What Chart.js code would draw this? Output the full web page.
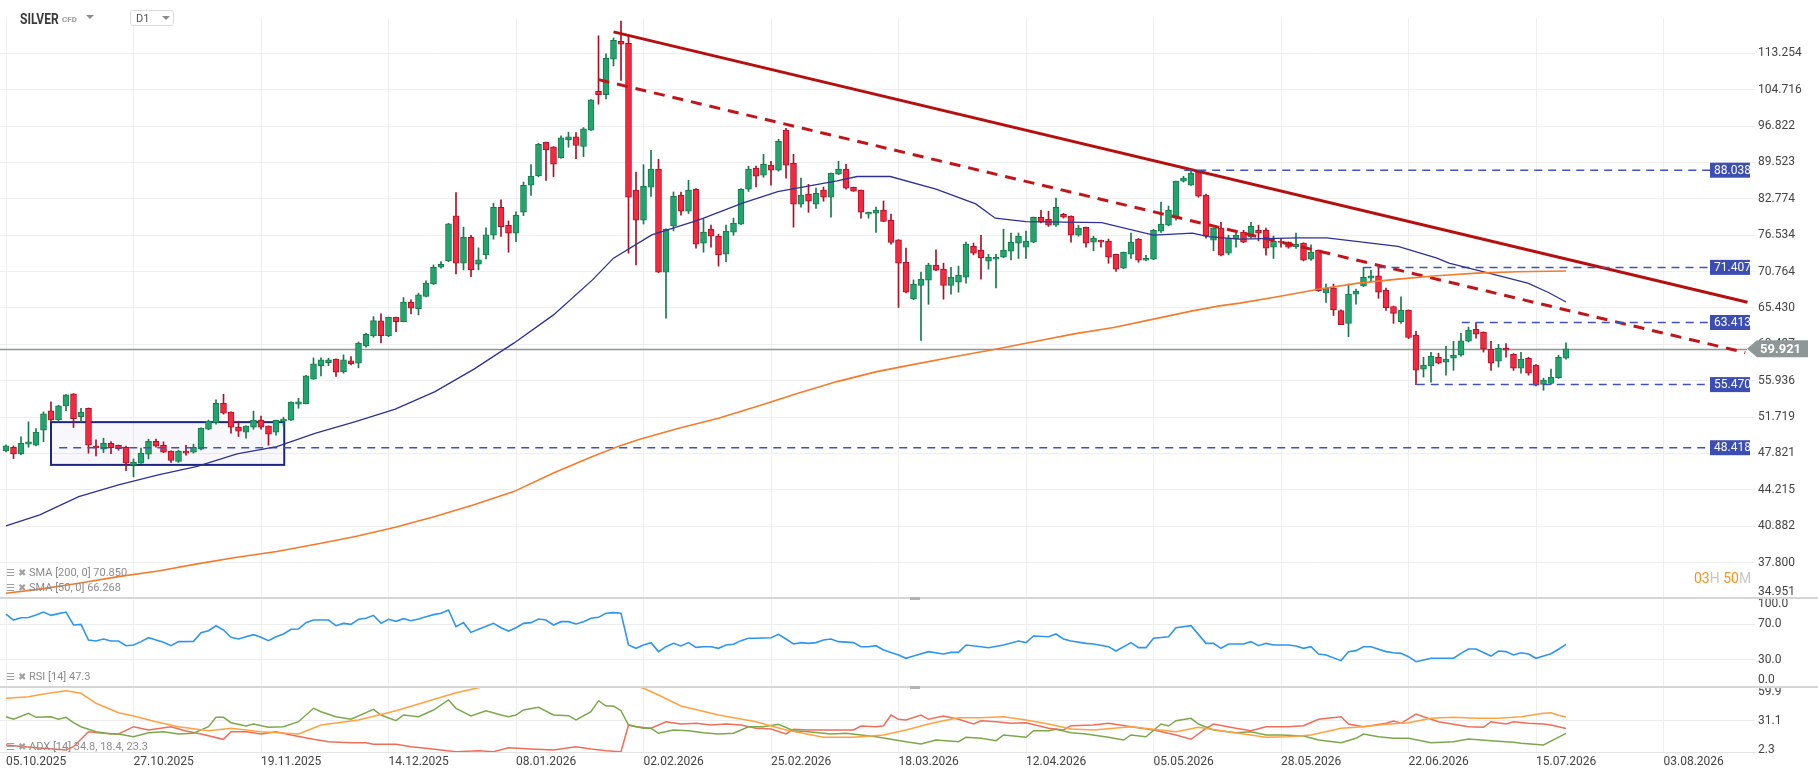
<!DOCTYPE html>
<html>
<head>
<meta charset="utf-8">
<script src="https://cdn.jsdelivr.net/npm/chart.js"></script>
<style>
  body { margin:0; background:#fff; width:1818px; height:779px; overflow:hidden; position:relative; font-family:Roboto, "Noto Sans", sans-serif; }
  canvas { position:absolute; left:0; }
  .txt { position:absolute; white-space:nowrap; line-height:1; }
  .lg { position:absolute; left:6px; font-size:11px; color:#8c8c8c; white-space:nowrap; line-height:12px; }
  .lg .ic { display:inline-block; font-size:10px; color:#a0a0a0; margin-right:3px; }
  .sep { position:absolute; left:0; width:1818px; height:2px; background:#d6d6d6; }
  .grip { position:absolute; left:910px; width:10px; height:3px; background:#b3b3b3; }
  .tri { position:absolute; width:0; height:0; border-left:4px solid transparent; border-right:4px solid transparent; border-top:4px solid #8a8a8a; }
</style>
</head>
<body>
<canvas id="main" width="1818" height="599" style="top:0"></canvas>
<canvas id="rsi" width="1818" height="90" style="top:597px"></canvas>
<canvas id="adx" width="1818" height="92" style="top:687px"></canvas>

<div class="sep" style="top:597px"></div>
<div class="sep" style="top:686px"></div>
<div class="grip" style="top:597px"></div>
<div class="grip" style="top:686px"></div>

<!-- header -->
<div class="txt" style="left:20px;top:12px;font-size:14px;font-weight:bold;color:#3a3a3a;transform:scaleX(0.86);transform-origin:left">SILVER</div>
<div class="txt" style="left:62px;top:16px;font-size:8px;font-weight:bold;color:#9a9a9a">CFD</div>
<div class="tri" style="left:86px;top:15px"></div>
<div style="position:absolute;left:130px;top:10px;width:42px;height:14px;border:1px solid #dcdcdc;border-radius:3px;background:#fff"></div>
<div class="txt" style="left:136px;top:13px;font-size:11px;color:#555">D1</div>
<div class="tri" style="left:162px;top:16px"></div>

<!-- legends -->
<div class="lg" style="top:567px"><span class="ic">☰</span><span class="ic">✖</span>SMA [200, 0] 70.850</div>
<div class="lg" style="top:582px"><span class="ic">☰</span><span class="ic">✖</span>SMA [50, 0] 66.268</div>
<div class="lg" style="top:671px"><span class="ic">☰</span><span class="ic">✖</span>RSI [14] 47.3</div>
<div class="lg" style="top:741px"><span class="ic">☰</span><span class="ic">✖</span>ADX [14] 34.8, 18.4, 23.3</div>
<div class="txt" style="left:1694px;top:571px;font-size:14px"><span style="color:#f7931e">03</span><span style="color:#c8c8c8">H</span> <span style="color:#f7931e">50</span><span style="color:#c8c8c8">M</span></div>

<script>
// ---- data ----
const dateLabels = ['05.10.2025','27.10.2025','19.11.2025','14.12.2025','08.01.2026','02.02.2026','25.02.2026',
  '18.03.2026','12.04.2026','05.05.2026','28.05.2026','22.06.2026','15.07.2026','03.08.2026'];
const barsPerLabel = 17;

const priceTicks = [113.254,104.716,96.822,89.523,82.774,76.534,70.764,65.430,60.497,55.936,51.719,47.821,44.215,40.882,37.800,34.951];
const rsiTicks = [0,30,70,100];
const adxTicks = [2.3,31.1,59.9];

// [open, high, low, close] per daily bar
const candles = [
  [48.09,48.72,47.99,48.61],[48.47,48.61,47.30,47.78],[47.78,49.56,47.71,48.89],[48.79,51.19,48.47,49.03],
  [48.68,50.46,48.61,50.07],[50.29,52.30,49.06,52.08],[52.42,53.44,51.19,51.41],[51.41,53.06,51.33,52.98],
  [52.98,54.33,52.45,54.25],[54.37,54.40,50.57,51.55],[51.78,52.72,51.19,52.27],[52.72,52.75,47.85,48.68],
  [48.58,49.24,47.57,48.40],[48.26,49.42,47.91,48.89],[48.89,49.06,47.81,48.43],[48.68,48.70,48.16,48.33],
  [48.47,48.58,46.09,46.84],[46.66,47.27,45.47,46.94],[46.84,48.37,46.80,47.85],[47.75,49.32,47.27,49.10],
  [49.10,49.32,48.47,48.58],[48.68,49.03,47.90,47.96],[48.06,48.10,46.90,47.10],[47.00,48.16,46.90,48.06],
  [48.06,48.68,47.64,47.85],[47.96,48.79,47.85,48.47],[48.26,50.55,48.20,50.50],[50.39,51.38,50.32,51.27],
  [51.11,53.67,50.94,53.29],[53.29,54.33,52.05,52.16],[52.27,52.30,49.96,50.61],[50.61,51.27,49.60,50.18],
  [50.07,50.75,49.42,50.72],[50.61,52.39,50.39,51.38],[51.38,51.82,50.39,50.61],[50.72,50.75,48.68,49.86],
  [50.07,51.40,49.75,51.38],[51.27,51.71,50.72,51.49],[51.38,53.45,51.35,53.42],[53.18,53.87,52.72,53.44],
  [53.24,56.60,53.20,56.52],[56.12,58.75,56.10,58.00],[57.78,58.75,56.52,58.50],[58.16,58.71,57.78,58.50],
  [58.62,58.65,56.45,56.97],[57.01,59.14,56.85,58.50],[58.37,58.92,57.88,58.04],[58.09,60.82,57.51,60.65],
  [60.29,61.96,60.12,61.83],[61.61,64.22,61.43,63.67],[63.63,64.60,60.69,61.65],[61.61,64.15,61.50,64.14],
  [64.14,64.16,62.18,63.53],[63.53,66.91,63.50,66.25],[66.25,66.58,64.60,65.40],[65.34,67.55,64.46,67.30],
  [67.06,69.36,67.00,69.02],[68.92,71.79,68.82,71.43],[71.43,72.29,71.28,71.89],[72.41,78.50,72.30,78.42],
  [79.78,83.90,70.41,72.05],[72.05,77.88,71.02,76.20],[76.20,76.50,70.00,71.02],[71.91,74.47,71.02,72.57],
  [73.36,77.76,72.72,76.58],[76.54,82.00,75.87,81.29],[81.29,82.58,76.32,77.95],[78.19,78.93,73.78,76.86],
  [76.86,80.47,75.49,79.90],[80.42,85.83,79.83,85.23],[85.23,89.10,83.37,86.91],[86.96,93.30,86.80,93.10],
  [93.50,93.55,86.10,92.03],[92.57,92.60,86.80,89.18],[90.42,94.80,90.30,94.38],[94.04,95.55,92.50,94.58],
  [94.58,95.47,90.24,92.84],[92.64,96.50,90.63,96.23],[95.96,102.50,95.90,102.43],[104.37,117.60,101.50,103.61],
  [103.61,113.10,102.63,112.05],[111.80,117.05,110.20,116.48],[116.23,121.40,106.80,115.50],[115.74,117.60,73.62,83.06],
  [84.33,87.66,71.80,79.05],[79.05,89.10,78.40,85.05],[84.87,91.90,83.20,88.23],[88.23,90.15,70.60,70.67],
  [70.67,77.60,64.00,77.53],[78.06,84.00,77.25,83.24],[83.42,84.00,79.90,80.58],[80.58,86.16,80.20,84.33],
  [84.50,84.60,74.42,75.06],[75.22,79.27,73.78,77.03],[77.53,78.20,74.60,76.37],[76.37,76.70,71.60,73.35],
  [73.46,78.20,72.30,77.20],[77.03,79.40,76.50,78.54],[78.37,84.60,78.30,84.50],[84.50,88.80,84.10,88.23],
  [88.42,88.80,84.90,86.91],[87.10,91.10,86.70,89.18],[89.00,89.75,85.23,88.04],[88.04,94.10,87.85,93.71],
  [95.96,96.37,86.54,89.00],[89.37,91.10,77.86,81.81],[81.81,86.54,81.29,83.42],[83.60,85.40,80.40,82.34],
  [81.81,84.70,81.10,83.78],[84.33,84.90,82.34,83.06],[83.06,87.50,79.55,87.47],[87.28,89.75,87.20,88.23],
  [88.23,89.18,84.50,84.69],[84.87,84.90,84.10,84.14],[84.33,84.35,79.40,80.42],[80.06,80.45,79.40,80.42],
  [80.24,81.30,77.00,80.78],[80.78,82.40,78.80,78.85],[79.05,80.10,75.06,75.37],[75.76,75.80,65.50,72.05],
  [72.20,74.42,67.60,67.70],[66.70,69.50,66.60,68.90],[68.70,70.67,61.00,69.62],[69.47,72.05,65.95,71.75],
  [71.75,74.15,70.90,70.97],[71.13,72.05,66.68,68.67],[68.67,71.43,67.40,69.92],[69.17,71.60,67.70,70.23],
  [69.92,75.40,69.00,75.10],[74.70,75.25,73.36,73.62],[74.10,76.50,69.60,72.87],[72.36,73.46,71.13,72.98],
  [72.67,73.46,68.30,72.98],[72.98,77.53,72.90,74.10],[73.94,76.90,72.57,75.40],[75.25,76.90,72.80,76.37],
  [74.60,77.20,72.80,75.55],[75.40,79.60,75.30,79.55],[79.55,80.73,78.60,78.71],[79.20,80.60,78.00,78.19],
  [78.19,82.90,78.00,81.29],[80.06,80.24,79.40,79.55],[79.73,79.80,75.40,76.54],[76.54,78.20,76.37,77.70],
  [77.86,77.90,74.60,75.22],[75.40,76.37,74.00,76.05],[75.70,75.75,74.60,75.40],[75.55,75.90,72.05,72.98],
  [73.46,73.50,70.80,71.13],[71.28,73.80,71.20,73.78],[73.46,76.90,72.80,75.40],[75.88,76.00,72.20,72.51],
  [72.51,73.30,72.40,72.83],[72.67,77.50,72.60,77.36],[77.20,82.20,77.00,78.37],[78.19,81.50,78.10,80.78],
  [79.40,86.00,79.05,85.99],[85.99,86.90,85.80,86.54],[85.23,88.04,85.20,87.47],[87.66,88.04,83.06,83.24],
  [83.42,83.60,76.05,76.37],[75.70,77.75,74.00,77.70],[77.70,78.70,73.20,73.30],[73.62,76.54,73.36,76.05],
  [75.88,77.20,74.60,76.54],[77.03,77.36,75.30,75.40],[76.20,78.70,76.10,78.02],[77.36,78.20,75.60,76.86],
  [77.36,77.70,73.30,74.42],[74.60,76.40,72.80,75.55],[75.55,75.90,74.60,75.37],[75.40,75.45,74.42,74.60],
  [74.68,76.90,74.40,75.06],[75.25,75.30,72.40,72.51],[72.67,74.95,72.50,73.78],[74.10,74.15,67.80,67.90],
  [67.60,68.90,66.20,68.30],[68.30,68.90,64.37,65.16],[65.06,65.16,63.10,63.13],[63.30,68.90,61.50,67.40],
  [67.40,68.13,65.95,67.84],[68.60,71.41,68.50,69.90],[69.75,70.97,69.20,70.10],[70.10,71.30,66.80,67.70],
  [67.98,68.30,65.10,65.48],[65.64,65.70,63.30,64.68],[63.53,67.00,63.30,65.12],[65.12,65.15,61.25,61.39],
  [61.70,62.23,55.47,57.22],[57.35,58.84,56.37,57.85],[57.74,59.48,55.77,58.97],[58.84,59.35,58.00,58.09],
  [58.22,60.25,56.60,58.59],[58.71,60.90,57.20,59.10],[59.10,61.96,58.97,60.95],[60.90,62.78,60.80,62.37],
  [62.50,63.41,61.30,61.83],[62.10,62.15,59.50,59.86],[59.86,60.90,57.20,58.09],[58.33,60.50,57.60,59.97],
  [59.97,60.60,58.84,59.74],[59.22,59.30,57.20,57.47],[57.47,59.48,56.85,58.59],[58.71,58.84,56.60,56.85],
  [57.86,57.90,55.30,55.40],[55.50,56.25,54.80,56.00],[55.62,57.35,55.50,56.37],[56.32,59.10,56.20,58.84],
  [58.71,60.70,58.60,59.921]
];
const lastPrice = 59.921;

// moving averages [bar, value]
const sma50 = [[0,40.92],[4.5,41.90],[9.7,43.58],[15,44.70],[20.3,45.67],[25.5,46.50],[30.8,47.78],[36.1,48.53],
  [41.3,49.96],[46.6,51.22],[51.9,52.61],[57.2,54.64],[62.4,57.35],[67.7,60.65],[73,64.46],[78.2,69.51],[81,72.84],
  [86.1,76.58],[92.4,79.10],[98.2,81.99],[102.9,84.07],[110.8,86.03],[113.5,86.85],[117.9,86.85],[124,84.51],
  [129.3,81.87],[131.9,79.39],[136,78.81],[146.1,78.64],[153,76.53],[158.2,76.86],[160.3,76.30],[164.5,75.88],
  [172.4,76.09],[176.1,76.09],[180.3,75.49],[185.6,74.70],[190.8,72.84],[192.4,72.05],[197.7,70.52],[202.9,69.02],
  [205.6,67.68],[208,66.27]];
const sma200 = [[0,35.39],[4.5,35.70],[9.7,36.16],[15,36.68],[20.3,37.13],[25.5,37.70],[30.8,38.24],[36.1,38.71],
  [41.3,39.33],[46.6,39.99],[51.9,40.79],[57.2,41.74],[62.4,42.81],[67.7,44.05],[73,45.85],[78.2,47.51],[81.8,48.61],
  [84.5,49.31],[89.7,50.50],[95,51.60],[100.3,52.98],[105.6,54.45],[110.8,55.83],[116.1,57.04],[121.4,58.00],
  [126.6,58.93],[131.9,59.87],[137.2,60.86],[142.4,61.88],[147.7,62.72],[153,63.87],[158.2,65.02],[161.8,65.72],
  [164.5,66.11],[169.7,67.06],[175,68.13],[180.3,69.02],[185.6,69.62],[190.8,70.12],[196.1,70.53],[201.4,70.73],
  [208,70.85]];

// drawn trendlines [bar, price]
const trendSolid = [[81.0,118.6],[232.2,66.25]];
const trendDashed = [[79.0,107.0],[231.9,59.43]];

// horizontal levels
const levels = [88.038, 71.407, 63.413, 55.470, 48.418];
const levelStart = [157.1, 181, 194.1, 188.1, 7.1];
const levelEnd = 227.2;

// consolidation box [barFrom, barTo, priceTop, priceBottom]
const rangeBox = [6.0, 37.1, 51.16, 46.66];

// RSI(14)
const rsi = [[0,81.1],[1,74.4],[2,77.0],[3,77.3],[4,80.0],[5,83.3],[6,79.6],[7,81.5],[8,83.3],[9,68.9],[10,69.6],
  [11,52.2],[12,51.1],[13,53.3],[14,51.1],[15,51.1],[16,45.9],[17,46.7],[18,50.4],[19,54.8],[20,52.2],[21,49.6],
  [22,45.9],[23,50.4],[25,50.7],[26,60.4],[27,62.6],[28,68.1],[29,63.3],[30,55.2],[31,53.3],[32,55.9],[33,58.1],
  [34,55.2],[35,51.5],[36,55.9],[37,58.9],[38,64.1],[39,64.4],[40,71.5],[41,74.4],[42,74.4],[43,74.4],[44,68.1],
  [45,70.7],[46,69.6],[47,75.2],[48,76.3],[49,79.6],[50,70.7],[51,75.2],[52,73.0],[53,75.9],[54,73.7],[55,75.6],
  [56,78.1],[57,80.4],[58,81.9],[59,85.6],[60,67.0],[61,71.5],[62,60.7],[63,64.1],[65,70.7],[66,65.9],[67,62.2],
  [68,65.9],[69,70.7],[70,71.5],[71,75.6],[72,74.4],[73,68.9],[74,72.6],[75,72.6],[76,70.0],[77,72.6],[78,76.3],
  [79,77.4],[80,81.9],[81,82.6],[82,81.9],[83,46.7],[84,43.0],[85,46.7],[86,49.3],[87,39.3],[88,44.8],[89,48.5],
  [90,45.6],[91,49.3],[92,44.1],[93,44.8],[94,44.8],[95,43.0],[96,46.7],[97,47.4],[98,51.5],[99,54.1],[100,54.1],
  [102,54.8],[103,58.5],[104,53.3],[105,47.8],[106,49.3],[107,48.5],[108,49.3],[109,52.2],[110,53.3],[111,50.4],
  [113,49.3],[114,44.8],[115,44.8],[116,45.9],[117,41.1],[119,35.6],[120,31.9],[121,34.4],[123,39.3],[125,36.7],
  [126,38.5],[127,38.5],[128,46.7],[130,44.8],[131,43.7],[133,46.7],[135,51.1],[136,49.3],[137,56.7],[139,55.9],
  [140,58.9],[141,53.3],[142,51.1],[144,48.5],[145,47.8],[147,44.8],[148,40.0],[150,49.3],[151,43.7],[152,43.7],
  [153,54.1],[155,55.9],[156,65.9],[158,68.1],[160,48.5],[161,48.5],[162,43.0],[163,47.8],[165,47.8],[166,50.4],
  [167,45.9],[168,48.5],[169,46.7],[171,46.7],[172,45.6],[173,43.0],[174,44.8],[175,36.7],[176,35.6],[178,29.3],
  [179,39.3],[180,40.4],[181,44.8],[182,44.8],[184,39.3],[185,38.1],[186,37.4],[187,33.7],[188,28.1],[189,30.0],
  [190,31.9],[193,31.9],[194,37.4],[195,42.2],[196,42.2],[198,34.4],[199,40.0],[200,39.3],[201,35.6],[202,38.1],
  [203,36.7],[204,31.9],[205,34.4],[206,37.0],[207,42.0],[208,47.3]];

// ADX(14), +DI, -DI
const adx = [[0,53.5],[3,55.1],[5,57.8],[8,61.1],[10,58.5],[12,48.5],[15,39.1],[17,35.8],[20,30.1],[23,25.1],[27,21.1],
  [30,23.5],[34,20.1],[39,17.8],[42,26.8],[47,31.8],[52,41.1],[56,50.1],[60,59.1],[63,64.1],[68,72.0],[74,78.0],
  [80,75.0],[85,63.5],[87,56.8],[90,45.8],[95,36.8],[100,30.1],[104,21.8],[109,14.5],[113,14.5],[117,16.8],[120,21.8],
  [123,27.8],[125,31.1],[127,34.1],[130,34.1],[133,35.1],[136,31.8],[139,27.8],[142,22.8],[145,21.8],[150,25.1],
  [153,22.5],[156,20.1],[159,24.5],[162,21.1],[165,17.8],[168,14.5],[171,15.1],[174,16.8],[178,23.5],[181,25.1],
  [184,27.5],[187,29.1],[190,33.5],[193,34.5],[196,33.5],[199,33.5],[202,35.1],[205,38.5],[206,39.1],[207,36.5],[208,34.8]];
const diPlus = [[0,35.1],[1,32.5],[3,38.5],[4,34.5],[6,35.1],[7,32.5],[8,34.5],[9,29.1],[10,25.1],[12,20.1],[14,17.8],
  [15,17.8],[17,15.1],[19,19.1],[21,20.1],[23,17.8],[25,18.5],[27,25.1],[28,34.5],[29,34.5],[30,29.1],[32,25.8],
  [33,27.8],[35,24.5],[37,25.1],[39,30.1],[41,43.5],[42,40.1],[44,35.1],[46,32.5],[49,42.5],[50,36.8],[52,31.1],
  [53,36.8],[55,35.1],[57,41.8],[59,51.8],[60,43.5],[62,35.8],[64,41.1],[66,36.8],[67,35.1],[68,36.8],[69,41.8],
  [71,44.5],[73,36.8],[75,36.1],[76,31.8],[78,40.1],[79,51.1],[80,45.8],[81,45.8],[82,41.1],[83,26.8],[85,23.5],
  [86,23.5],[87,18.5],[89,21.8],[91,21.1],[93,19.1],[95,17.8],[97,18.5],[99,25.1],[101,25.1],[103,27.5],[105,21.1],
  [107,20.1],[110,17.8],[112,18.5],[114,16.8],[116,15.1],[118,12.5],[120,10.1],[122,7.8],[124,11.8],[127,10.1],
  [128,14.5],[130,13.5],[132,11.1],[133,16.8],[136,14.5],[137,21.1],[139,21.1],[140,22.5],[142,19.1],[144,17.8],
  [147,14.5],[149,11.8],[150,16.8],[152,15.1],[154,27.8],[155,25.8],[156,31.1],[158,33.5],[159,27.8],[161,21.8],
  [164,19.1],[166,20.1],[168,16.8],[170,16.8],[173,15.8],[175,11.8],[178,9.1],[180,13.5],[181,17.8],[183,15.1],
  [185,13.5],[187,13.5],[190,9.1],[193,10.1],[195,12.8],[198,11.1],[201,9.5],[202,8.5],[205,6.8],[208,18.4]];
const diMinus = [[0,6.8],[4,4.1],[8,1.8],[9,5.1],[11,20.1],[13,18.5],[15,17.8],[17,25.1],[19,21.8],[22,25.1],[24,20.8],
  [26,17.8],[29,12.5],[30,20.1],[32,20.1],[34,17.8],[36,20.1],[38,16.8],[41,12.5],[43,10.1],[46,9.1],[48,9.1],
  [49,7.5],[52,7.5],[54,5.1],[56,3.5],[58,1.8],[60,0.1],[63,1.1],[65,0.1],[67,4.1],[70,2.8],[73,1.8],[76,5.1],
  [78,2.8],[80,1.1],[82,0.1],[83,26.8],[84,25.1],[86,23.5],[88,30.1],[90,27.8],[92,28.5],[94,26.8],[96,27.8],
  [98,26.8],[100,23.5],[102,22.8],[104,17.8],[105,22.5],[107,21.8],[109,21.8],[111,21.8],[113,21.8],[114,25.8],
  [116,25.1],[117,26.1],[118,36.8],[119,32.5],[120,31.8],[122,36.8],[123,32.5],[125,35.8],[127,32.5],[129,27.8],
  [130,31.1],[132,30.1],[134,28.5],[136,29.1],[139,23.5],[141,21.8],[142,26.1],[145,26.8],[147,28.5],[150,25.1],
  [153,21.8],[156,16.8],[158,12.5],[160,23.5],[161,27.8],[164,23.5],[166,21.1],[168,25.1],[171,25.1],[173,26.1],
  [175,32.5],[178,35.1],[179,27.8],[181,25.1],[184,28.5],[185,30.8],[186,28.5],[188,37.8],[189,35.1],[191,30.1],
  [195,25.1],[197,24.5],[198,30.1],[200,27.8],[201,30.1],[203,28.5],[205,27.8],[206,26.8],[208,23.3]];

// ---- chart setup ----
Chart.defaults.font.family = 'Roboto';
Chart.defaults.font.size = 12;
Chart.defaults.color = '#444';
Chart.defaults.animation = false;
Chart.defaults.plugins.legend.display = false;
Chart.defaults.plugins.tooltip.enabled = false;

const UP = '#22a46e', UP_EDGE = '#177a4c';
const DOWN = '#f4283f', DOWN_EDGE = '#ad1029';
const isUp = i => candles[i][3] >= candles[i][0];
const pts = arr => arr.map(p => ({ x: p[0], y: p[1] }));

// no label overhang padding, so the three panes line up exactly
function noPad(s) { s.paddingTop = 0; s.paddingBottom = 0; s.paddingLeft = 0; s.paddingRight = 0; }

function xAxis(showLabels) {
  return {
    type: 'linear', min: -0.8, max: 233.2, offset: false,
    afterBuildTicks: s => { s.ticks = dateLabels.map((_, i) => ({ value: i * barsPerLabel })); },
    afterFit: s => { s.height = showLabels ? 27 : 0; noPad(s); },
    grid: { color: '#efefef', offset: false, drawTicks: false },
    border: { display: showLabels, color: '#e4e4e4' },
    ticks: {
      display: showLabels, align: 'start', padding: 3, maxRotation: 0, autoSkip: false,
      callback: v => dateLabels[Math.round(v / barsPerLabel)]
    }
  };
}

function yRight(extra) {
  return Object.assign({
    position: 'right',
    afterFit: s => { s.width = 63; noPad(s); },
    border: { display: false }
  }, extra);
}

function lineDs(data, color, width, extra) {
  return Object.assign({ type: 'line', data: pts(data), borderColor: color, borderWidth: width,
    pointRadius: 0, tension: 0, fill: false, order: 0 }, extra || {});
}

// annotations on the price pane
const overlay = {
  id: 'overlay',
  beforeDatasetsDraw(chart) {
    const { ctx, chartArea, scales: { x, y } } = chart;
    const bx0 = x.getPixelForValue(rangeBox[0]), bx1 = x.getPixelForValue(rangeBox[1]);
    const by0 = y.getPixelForValue(rangeBox[2]), by1 = y.getPixelForValue(rangeBox[3]);
    ctx.save();
    ctx.fillStyle = 'rgba(63,81,181,0.045)';
    ctx.fillRect(bx0, by0, bx1 - bx0, by1 - by0);
    ctx.strokeStyle = '#1c2580';
    ctx.lineWidth = 2;
    ctx.strokeRect(bx0, by0, bx1 - bx0, by1 - by0);
    const py = Math.round(y.getPixelForValue(lastPrice)) + 0.5;
    ctx.strokeStyle = '#8d9595';
    ctx.lineWidth = 1.3;
    ctx.beginPath();
    ctx.moveTo(chartArea.left, py);
    ctx.lineTo(chartArea.right - 8, py);
    ctx.stroke();
    ctx.restore();
  },
  afterDraw(chart) {
    const { ctx, chartArea, scales: { y } } = chart;
    ctx.save();
    ctx.font = '12px Roboto';
    ctx.textBaseline = 'middle';
    levels.forEach(v => {
      const ly = y.getPixelForValue(v);
      const l = chartArea.right - 45, w = 40, h = 15;
      ctx.fillStyle = '#3d4eb2';
      ctx.fillRect(l, ly - h / 2, w, h);
      ctx.save();
      ctx.beginPath(); ctx.rect(l, ly - h / 2, w, h); ctx.clip();
      ctx.fillStyle = '#ffffff';
      ctx.fillText(v.toFixed(3), l + 4, ly + 0.5);
      ctx.restore();
    });
    // last price marker
    const py = y.getPixelForValue(lastPrice);
    const tip = chartArea.right - 8;
    ctx.fillStyle = '#8e9797';
    ctx.beginPath();
    ctx.moveTo(tip, py);
    ctx.lineTo(tip + 10, py - 8.5);
    ctx.lineTo(tip + 61, py - 8.5);
    ctx.lineTo(tip + 61, py + 8.5);
    ctx.lineTo(tip + 10, py + 8.5);
    ctx.closePath();
    ctx.fill();
    ctx.fillStyle = '#ffffff';
    ctx.font = 'bold 13px Roboto';
    ctx.fillText(lastPrice.toFixed(3), tip + 13, py + 0.5);
    ctx.restore();
  }
};

new Chart(document.getElementById('main'), {
  type: 'bar',
  data: {
    datasets: [
      { type: 'bar', data: candles.map((c, i) => ({ x: i, y: [c[2], c[1]] })), grouped: false, barThickness: 1,
        backgroundColor: c => isUp(c.dataIndex) ? UP_EDGE : DOWN_EDGE, borderWidth: 0, order: 2 },
      { type: 'bar', data: candles.map((c, i) => ({ x: i, y: [c[0], c[3]] })), grouped: false, barThickness: 6,
        minBarLength: 1, borderSkipped: false, borderWidth: 1,
        backgroundColor: c => isUp(c.dataIndex) ? UP : DOWN,
        borderColor: c => isUp(c.dataIndex) ? UP_EDGE : DOWN_EDGE, order: 1 },
      lineDs(sma200, '#f47b2b', 1.6),
      lineDs(sma50, '#2e3192', 1.3),
      ...levels.map((v, i) => lineDs([[levelStart[i], v], [levelEnd, v]], '#4153b8', 1.5, { borderDash: [8, 6] })),
      lineDs(trendSolid, '#b5100f', 3),
      lineDs(trendDashed, '#c0161a', 3, { borderDash: [11, 8] })
    ]
  },
  options: {
    responsive: false,
    layout: { padding: { top: 18, left: 0, right: 0, bottom: 0 }, autoPadding: false },
    scales: {
      x: xAxis(false),
      y: yRight({
        type: 'logarithmic', min: 34.951, max: 122.2,
        afterBuildTicks: s => { s.ticks = priceTicks.map(v => ({ value: v })); },
        grid: { color: '#efefef', drawTicks: false },
        ticks: { padding: 3, autoSkip: false,
          callback: (v, i) => i === priceTicks.length - 1 ? [v.toFixed(3), ''] : v.toFixed(3) }
      })
    }
  },
  plugins: [overlay]
});

new Chart(document.getElementById('rsi'), {
  type: 'line',
  data: { datasets: [lineDs(rsi, '#2e96ee', 1.6)] },
  options: {
    responsive: false,
    layout: { padding: 0, autoPadding: false },
    scales: {
      x: xAxis(false),
      y: yRight({
        min: 0, max: 100,
        afterBuildTicks: s => { s.ticks = rsiTicks.map(v => ({ value: v })); },
        grid: { drawTicks: false, color: c => (c.tick && (c.tick.value === 30 || c.tick.value === 70)) ? '#ededed' : 'rgba(0,0,0,0)' },
        ticks: { padding: 3, autoSkip: false,
          callback: v => v === 100 ? ['', '100.0'] : v === 0 ? ['0.0', ''] : v.toFixed(1) }
      })
    }
  }
});

new Chart(document.getElementById('adx'), {
  type: 'line',
  data: { datasets: [
    lineDs(adx, '#ffa23f', 1.5),
    lineDs(diPlus, '#7ba84a', 1.5),
    lineDs(diMinus, '#ee6e58', 1.5)
  ] },
  options: {
    responsive: false,
    layout: { padding: 0, autoPadding: false },
    scales: {
      x: xAxis(true),
      y: yRight({
        min: -0.2, max: 64.8,
        afterBuildTicks: s => { s.ticks = adxTicks.map(v => ({ value: v })); },
        grid: { drawTicks: false, color: c => (c.tick && c.tick.value === 31.1) ? '#ededed' : 'rgba(0,0,0,0)' },
        ticks: { padding: 3, autoSkip: false, callback: v => v.toFixed(1) }
      })
    }
  }
});
</script>
</body>
</html>
